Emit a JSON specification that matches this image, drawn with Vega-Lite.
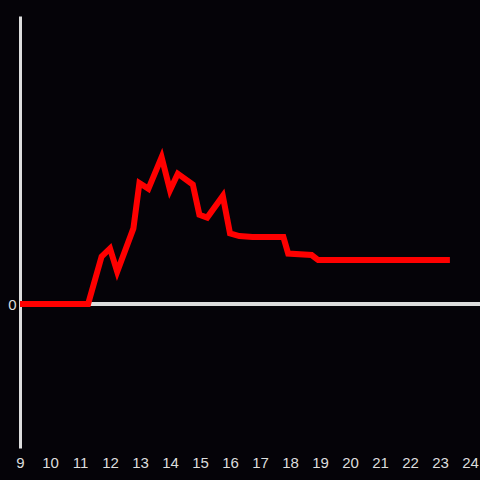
{
  "$schema": "https://vega.github.io/schema/vega-lite/v6.json",
  "width": 460,
  "height": 432,
  "autosize": {"type": "none"},
  "padding": {"left": 20, "top": 16, "right": 0, "bottom": 32},
  "background": "#050308",
  "config": {
    "view": {"stroke": null},
    "font": "Liberation Sans"
  },
  "data": {
    "values": [
      {"t": 9.0, "v": 0},
      {"t": 11.27, "v": 0},
      {"t": 11.72, "v": 0.33},
      {"t": 12.0, "v": 0.386},
      {"t": 12.24, "v": 0.224},
      {"t": 12.78, "v": 0.525},
      {"t": 12.98, "v": 0.84},
      {"t": 13.28, "v": 0.8},
      {"t": 13.72, "v": 1.02},
      {"t": 14.0, "v": 0.79},
      {"t": 14.26, "v": 0.905},
      {"t": 14.76, "v": 0.83},
      {"t": 14.98, "v": 0.62},
      {"t": 15.24, "v": 0.6},
      {"t": 15.76, "v": 0.75},
      {"t": 16.0, "v": 0.49},
      {"t": 16.31, "v": 0.472},
      {"t": 16.75, "v": 0.465},
      {"t": 17.78, "v": 0.465},
      {"t": 17.94, "v": 0.35},
      {"t": 18.72, "v": 0.34},
      {"t": 18.94, "v": 0.305},
      {"t": 23.33, "v": 0.305}
    ]
  },
  "layer": [
    {
      "mark": {"type": "rule", "color": "#dddddd", "strokeWidth": 3},
      "encoding": {"y": {"datum": 0, "type": "quantitative", "scale": {"domain": [-1, 2]}}}
    },
    {
      "mark": {"type": "line", "color": "#ff0000", "strokeWidth": 6, "strokeJoin": "miter", "strokeCap": "butt"},
      "encoding": {
        "x": {
          "field": "t", "type": "quantitative",
          "scale": {"domain": [9, 24.3333], "nice": false, "zero": false},
          "axis": {
            "values": [9,10,11,12,13,14,15,16,17,18,19,20,21,22,23,24],
            "format": "d",
            "domain": false, "ticks": false, "grid": false, "title": null,
            "labelColor": "#dddddd", "labelFontSize": 15, "labelPadding": 7,
            "labelFlush": false, "labelOverlap": false
          }
        },
        "y": {
          "field": "v", "type": "quantitative",
          "scale": {"domain": [-1, 2], "nice": false, "zero": false},
          "axis": {
            "values": [0],
            "format": "d",
            "domain": true, "domainColor": "#dddddd", "domainWidth": 3,
            "ticks": false, "grid": false, "title": null,
            "labelColor": "#dddddd", "labelFontSize": 15, "labelPadding": 4
          }
        }
      }
    }
  ]
}
